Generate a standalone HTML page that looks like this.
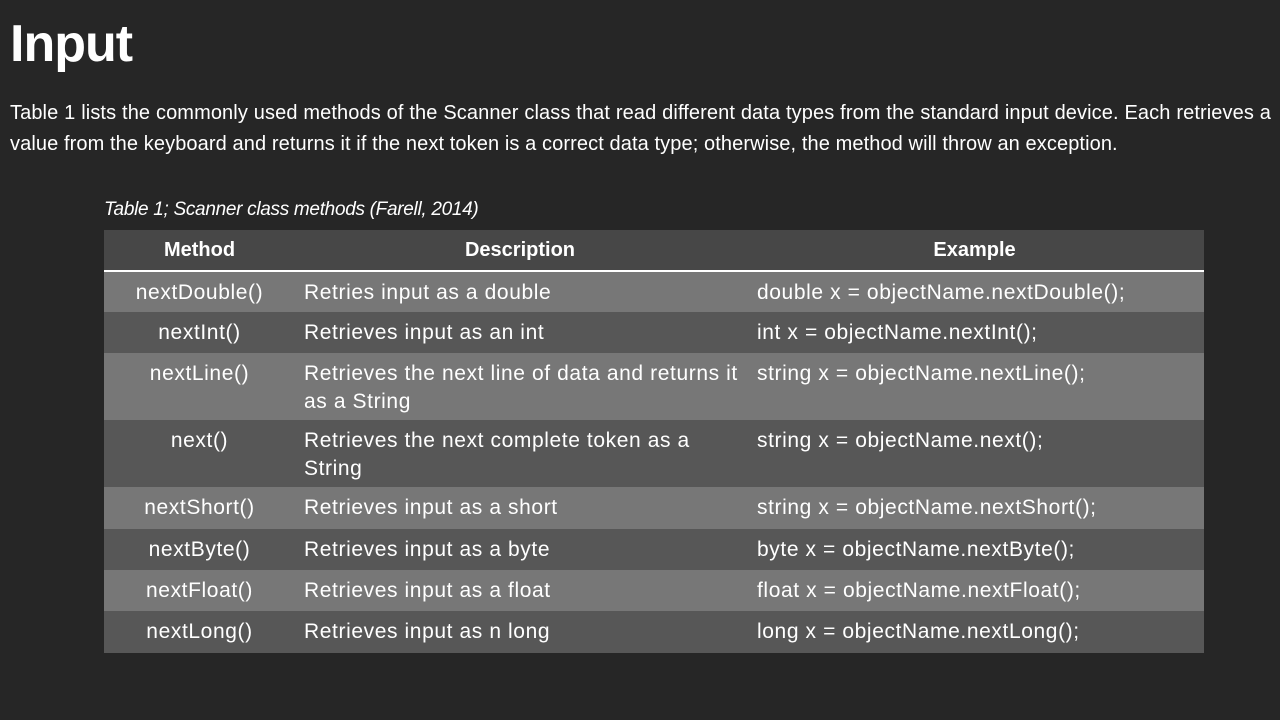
<!DOCTYPE html>
<html><head><meta charset="utf-8"><style>
body{margin:0;width:1280px;height:720px;background:#262626;overflow:hidden;font-family:"Liberation Sans",sans-serif;color:#fff;position:relative}
h1{position:absolute;left:10px;top:14px;margin:0;font-size:52px;font-weight:bold;letter-spacing:-1px}
p{position:absolute;left:10px;top:98px;width:1261px;margin:0;font-size:20px;line-height:31px;text-align:justify;text-align-last:left;letter-spacing:0.1px}
.cap{position:absolute;left:104px;top:199px;font-size:19px;font-style:italic;letter-spacing:-0.3px}
table{position:absolute;left:104px;top:230px;width:1100px;border-collapse:collapse;font-size:20px}
td,th{padding:0;vertical-align:top;line-height:28px}
th{height:40px;background:#474747;font-weight:bold;vertical-align:middle;border-bottom:2px solid #fff}
td{padding-top:7px;letter-spacing:0.6px;font-size:21px;white-space:nowrap}
tr.l td{background:#777}
tr.d td{background:#575757}
td:first-child{text-align:center}
td:nth-child(2){padding-left:9px}
td:nth-child(3){padding-left:12px}
</style></head><body>
<h1>Input</h1>
<p>Table 1 lists the commonly used methods of the Scanner class that read different data types from the standard input device. Each retrieves a value from the keyboard and returns it if the next token is a correct data type; otherwise, the method will throw an exception.</p>
<div class="cap">Table 1; Scanner class methods (Farell, 2014)</div>
<table>
<colgroup><col style="width:191px"><col style="width:450px"><col style="width:459px"></colgroup>
<tr><th>Method</th><th>Description</th><th>Example</th></tr>
<tr class="l" style="height:41px"><td>nextDouble()</td><td>Retries input as a double</td><td>double x = objectName.nextDouble();</td></tr>
<tr class="d" style="height:41px"><td>nextInt()</td><td>Retrieves input as an int</td><td>int x = objectName.nextInt();</td></tr>
<tr class="l" style="height:67px"><td>nextLine()</td><td>Retrieves the next line of data and returns it<br>as a String</td><td>string x = objectName.nextLine();</td></tr>
<tr class="d" style="height:67px"><td>next()</td><td>Retrieves the next complete token as a<br>String</td><td>string x = objectName.next();</td></tr>
<tr class="l" style="height:42px"><td>nextShort()</td><td>Retrieves input as a short</td><td>string x = objectName.nextShort();</td></tr>
<tr class="d" style="height:41px"><td>nextByte()</td><td>Retrieves input as a byte</td><td>byte x = objectName.nextByte();</td></tr>
<tr class="l" style="height:41px"><td>nextFloat()</td><td>Retrieves input as a float</td><td>float x = objectName.nextFloat();</td></tr>
<tr class="d" style="height:42px"><td>nextLong()</td><td>Retrieves input as n long</td><td>long x = objectName.nextLong();</td></tr>
</table>
</body></html>
